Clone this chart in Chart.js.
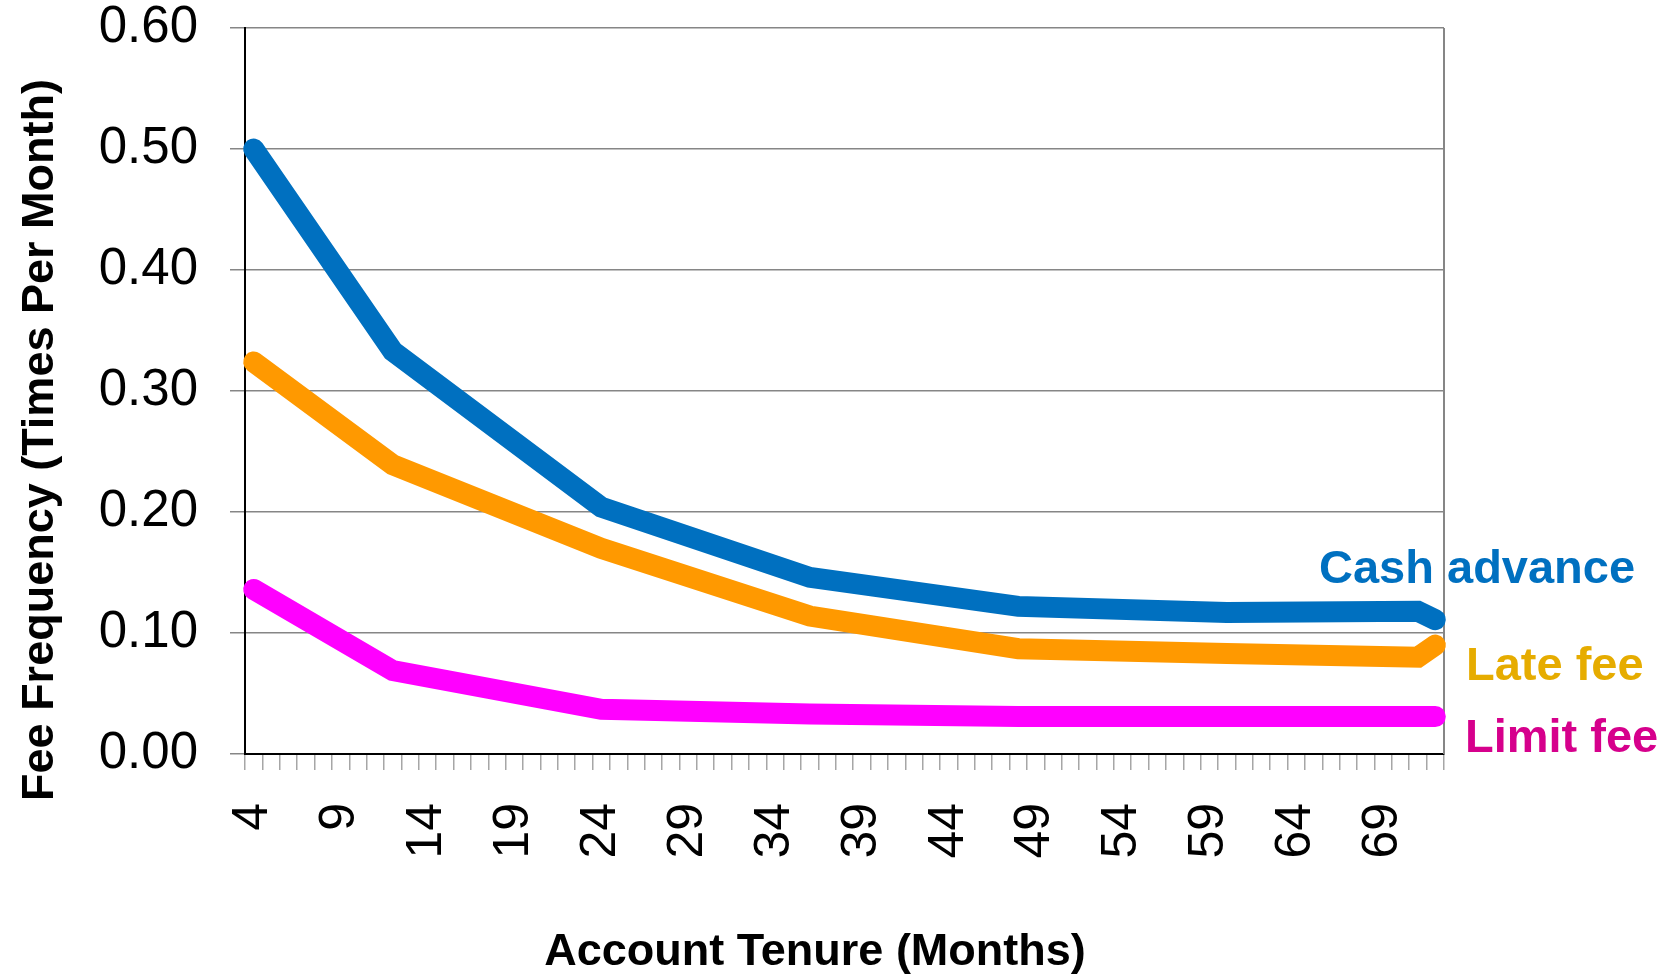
<!DOCTYPE html>
<html lang="en">
<head>
    <meta charset="UTF-8">
    <title>Fee Frequency by Account Tenure</title>
    <script src="https://cdn.jsdelivr.net/npm/chart.js"></script>
    <style>
        body { margin: 0; background: #fff; }
        #wrap { width: 1677px; height: 975px; }
    </style>
</head>
<body>
    <div id="wrap"><canvas id="feeChart"></canvas></div>

    <script>
        // tenure months on the category axis (4 .. 72), labelled every 5
        const months = Array.from({ length: 69 }, (_, i) => String(i + 4));
        const pointMonths = ['4', '12', '24', '36', '48', '60', '71', '72'];
        const cashAdvance = [0.500, 0.333, 0.204, 0.146, 0.122, 0.117, 0.118, 0.111];
        const lateFee     = [0.324, 0.239, 0.170, 0.114, 0.087, 0.083, 0.080, 0.090];
        const limitFee    = [0.136, 0.069, 0.037, 0.033, 0.031, 0.031, 0.031, 0.031];
        const yTicks = [0, 0.1, 0.2, 0.3, 0.4, 0.5, 0.6];

        const seriesNames = ['Cash advance', 'Late fee', 'Limit fee'];
        const lineColors = ['#0070C0', '#FF9900', '#FF00FF'];
        const labelColors = ['#0070C0', '#E6AC00', '#D6008C'];

        const font = '"Liberation Sans", Arial, sans-serif';

        const toPoints = vals => pointMonths.map((m, i) => ({ x: m, y: vals[i] }));

        // axis titles, series names and the right frame line
        const extras = {
            id: 'extras',
            beforeDatasetsDraw(chart) {
                const { ctx, chartArea: a } = chart;
                ctx.save();
                ctx.strokeStyle = '#868686';
                ctx.lineWidth = 2;
                ctx.beginPath();
                ctx.moveTo(a.right, a.top);
                ctx.lineTo(a.right, a.bottom);
                ctx.stroke();
                ctx.restore();
            },
            afterDraw(chart) {
                const ctx = chart.ctx;
                ctx.save();
                ctx.fillStyle = '#000';
                ctx.font = 'bold 45px ' + font;
                ctx.textAlign = 'center';
                ctx.textBaseline = 'alphabetic';
                ctx.fillText('Account Tenure (Months)', 815, 965);

                ctx.translate(53, 440);
                ctx.rotate(-Math.PI / 2);
                ctx.fillText('Fee Frequency (Times Per Month)', 0, 0);
                ctx.restore();

                ctx.save();
                ctx.font = 'bold 47px ' + font;
                ctx.textAlign = 'left';
                ctx.textBaseline = 'alphabetic';
                const spots = [[1319, 583], [1466, 680], [1465, 752]];
                seriesNames.forEach((name, i) => {
                    ctx.fillStyle = labelColors[i];
                    ctx.fillText(name, spots[i][0], spots[i][1]);
                });
                ctx.restore();
            }
        };

        const lineSet = (label, vals, color) => ({
            label: label,
            data: toPoints(vals),
            borderColor: color,
            backgroundColor: color,
            borderWidth: 21,
            borderCapStyle: 'round',
            borderJoinStyle: 'miter',
            pointRadius: 0,
            tension: 0,
            spanGaps: true,
            clip: false
        });

        new Chart(document.getElementById('feeChart'), {
            type: 'line',
            data: {
                labels: months,
                datasets: [
                    lineSet(seriesNames[0], cashAdvance, lineColors[0]),
                    lineSet(seriesNames[1], lateFee, lineColors[1]),
                    lineSet(seriesNames[2], limitFee, lineColors[2])
                ]
            },
            options: {
                responsive: true,
                maintainAspectRatio: false,
                animation: false,
                layout: { padding: { top: 28, right: 233, left: 0, bottom: 0 } },
                plugins: {
                    legend: { display: false },
                    tooltip: { enabled: false }
                },
                scales: {
                    x: {
                        type: 'category',
                        offset: true,
                        afterFit: s => {
                            s.height = 221;
                            s.paddingLeft = 0;
                            s.paddingRight = 0;
                        },
                        grid: {
                            offset: true,
                            drawOnChartArea: false,
                            color: '#a6a6a6',
                            lineWidth: 1.5,
                            tickLength: 16
                        },
                        border: { color: '#000', width: 2 },
                        ticks: {
                            autoSkip: false,
                            minRotation: 90,
                            maxRotation: 90,
                            padding: 33,
                            color: '#000',
                            font: { family: font, size: 50 },
                            callback: function (v, i) {
                                return (i % 5 === 0) ? this.getLabelForValue(v) : '';
                            }
                        }
                    },
                    y: {
                        min: 0,
                        max: 0.6,
                        afterFit: s => {
                            s.width = 245;
                            s.paddingTop = 0;
                            s.paddingBottom = 0;
                        },
                        afterBuildTicks: s => { s.ticks = yTicks.map(v => ({ value: v })); },
                        grid: {
                            color: '#868686',
                            lineWidth: 1.5,
                            tickLength: 15
                        },
                        border: { color: '#000', width: 2 },
                        ticks: {
                            padding: 32,
                            color: '#000',
                            font: { family: font, size: 51 },
                            callback: v => v.toFixed(2)
                        }
                    }
                }
            },
            plugins: [extras]
        });
    </script>
</body>
</html>
